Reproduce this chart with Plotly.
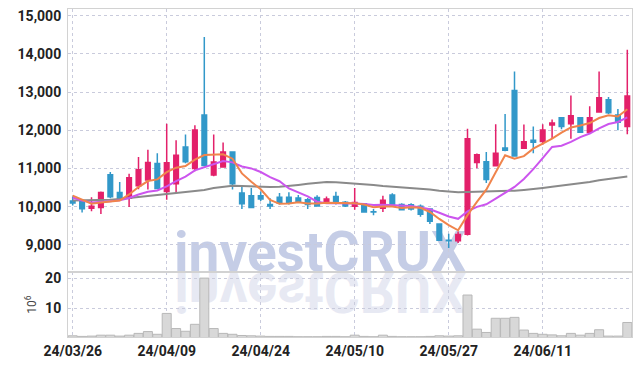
import plotly.graph_objects as go

dates = ["24/03/26", "24/03/27", "24/03/28", "24/03/29", "24/04/01", "24/04/02", "24/04/03", "24/04/04",
         "24/04/05", "24/04/08", "24/04/09", "24/04/11", "24/04/12", "24/04/15", "24/04/16", "24/04/17",
         "24/04/18", "24/04/19", "24/04/22", "24/04/23", "24/04/24", "24/04/25", "24/04/26", "24/04/29",
         "24/04/30", "24/05/02", "24/05/03", "24/05/07", "24/05/08", "24/05/09", "24/05/10", "24/05/13",
         "24/05/14", "24/05/16", "24/05/17", "24/05/20", "24/05/21", "24/05/22", "24/05/23", "24/05/24",
         "24/05/27", "24/05/28", "24/05/29", "24/05/30", "24/05/31", "24/06/03", "24/06/04", "24/06/05",
         "24/06/07", "24/06/10", "24/06/11", "24/06/12", "24/06/13", "24/06/14", "24/06/17", "24/06/18",
         "24/06/19", "24/06/20", "24/06/21", "24/06/24"]

open_ = [10150, 10150, 9960, 9980, 10840, 10370, 10220, 10550, 10700, 11130,
         10400, 10600, 11560, 11000, 12400, 10830, 11040, 11430, 10360, 10290,
         10290, 10060, 10250, 10250, 10230, 10180, 10240, 10100, 10270, 10120,
         10010, 10080, 9870, 9960, 10310, 10060, 10050, 10010, 9940, 9550,
         9120, 9110, 9280, 11160, 11180, 11070, 11540, 13040, 11530, 11740,
         11710, 12140, 12330, 12170, 12330, 11950, 12480, 12800, 12400, 12100]

high = [10270, 10200, 10250, 10400, 10910, 10650, 10860, 11300, 11490, 11400,
        12170, 11740, 11890, 12130, 14440, 11890, 11680, 11440, 10550, 10490,
        10400, 10220, 10360, 10380, 10310, 10230, 10300, 10270, 10390, 10150,
        10490, 10100, 9940, 10290, 10350, 10090, 10090, 10060, 9960, 9570,
        9290, 9350, 12040, 11390, 11430, 12160, 12430, 13540, 12150, 12100,
        12160, 12280, 12340, 12910, 12340, 12630, 13540, 12870, 12560, 14110]

low = [10030, 9850, 9880, 9810, 10220, 10180, 9990, 10460, 10450, 10460,
       10180, 10360, 11140, 10930, 11050, 10800, 11030, 10450, 9940, 9970,
       10150, 9940, 10060, 10060, 10100, 9940, 10010, 10070, 10060, 9990,
       9920, 9840, 9780, 9860, 10010, 9900, 9900, 9740, 9550, 9100,
       8920, 9050, 9250, 11010, 10620, 11050, 11450, 11310, 11510, 11400,
       11620, 11800, 12030, 11780, 11940, 11930, 12480, 12430, 12000, 11900]

close = [10100, 9950, 10010, 10370, 10260, 10210, 10760, 10970, 11160, 10480,
         11150, 11350, 11180, 12010, 11080, 11170, 11430, 10600, 10080, 9980,
         10200, 10020, 10100, 10120, 10130, 10060, 10020, 10200, 10090, 10020,
         10110, 9860, 9860, 10170, 10030, 9920, 9940, 9800, 9620, 9120,
         9110, 9270, 11780, 11360, 10710, 11400, 11480, 11330, 11700, 11690,
         12010, 12190, 12100, 12380, 11950, 12330, 12850, 12460, 12210, 12900]

volume = [0.9, 0.7, 0.8, 1.1, 1.1, 0.8, 1.1, 1.7, 2.3, 1.4,
          8.3, 3.3, 2.4, 4.7, 20.0, 3.3, 1.7, 1.4, 1.0, 0.9,
          0.8, 0.7, 0.7, 0.7, 0.6, 0.6, 0.6, 0.7, 0.7, 0.6,
          1.1, 0.7, 0.6, 1.1, 0.7, 0.6, 0.6, 0.6, 0.7, 0.9,
          0.8, 0.9, 14.4, 3.1, 2.0, 6.7, 6.7, 7.0, 2.8, 1.7,
          1.4, 1.2, 0.9, 1.7, 1.1, 1.7, 2.9, 0.8, 0.8, 5.3]

ma_short = [10290, 10180, 10080, 10110, 10138, 10160, 10322, 10514, 10672, 10716,
            10904, 11022, 11064, 11234, 11354, 11358, 11374, 11258, 10872, 10652,
            10458, 10176, 10076, 10084, 10114, 10086, 10086, 10106, 10100, 10078,
            10088, 10056, 9988, 10004, 10006, 9968, 9984, 9972, 9862, 9680,
            9518, 9384, 9780, 10128, 10446, 10904, 11346, 11256, 11324, 11520,
            11642, 11784, 11938, 12074, 12126, 12190, 12322, 12394, 12360, 12550]

ma_mid = [10240, 10160, 10110, 10120, 10140, 10170, 10230, 10320, 10390, 10427,
          10532, 10672, 10789, 10953, 11035, 11131, 11198, 11161, 11053, 11003,
          10908, 10775, 10667, 10478, 10383, 10272, 10131, 10091, 10092, 10096,
          10087, 10071, 10047, 10052, 10042, 10028, 10020, 9980, 9933, 9843,
          9743, 9684, 9876, 9995, 10063, 10211, 10365, 10518, 10726, 10983,
          11273, 11565, 11597, 11699, 11823, 11916, 12053, 12166, 12217, 12338]

ma_long = [10165, 10168, 10170, 10175, 10185, 10205, 10230, 10255, 10280, 10310,
           10340, 10365, 10390, 10410, 10440, 10490, 10520, 10550, 10545, 10530,
           10520, 10515, 10520, 10540, 10570, 10600, 10625, 10645, 10640, 10625,
           10610, 10590, 10570, 10545, 10525, 10505, 10490, 10480, 10450, 10420,
           10395, 10380, 10385, 10390, 10395, 10400, 10405, 10420, 10440, 10460,
           10490, 10520, 10550, 10580, 10620, 10650, 10690, 10720, 10750, 10790]

price_ticks = [9000, 10000, 11000, 12000, 13000, 14000, 15000]
vol_ticks = [10, 20]
date_ticks = dates[::10]

RED = "#e3206a"
BLUE = "#3298c9"
GRID = "#c9cbdc"
AXLINE = "#d2d2d2"
TXT = "#222222"
TICKFONT = dict(family="Roboto, sans-serif", size=14, color=TXT, weight="bold")

fig = go.Figure()

fig.add_trace(go.Bar(
    x=dates, y=volume, xaxis="x", yaxis="y",
    marker=dict(color="#d8d8d8", line=dict(color="#b8b8b8", width=1)),
    hoverinfo="skip"))

fig.add_trace(go.Candlestick(
    x=dates, open=open_, high=high, low=low, close=close,
    xaxis="x2", yaxis="y2",
    increasing=dict(line=dict(color=RED, width=1.5), fillcolor=RED),
    decreasing=dict(line=dict(color=BLUE, width=1.5), fillcolor=BLUE)))

fig.add_trace(go.Scatter(x=dates, y=ma_long, xaxis="x2", yaxis="y2", mode="lines",
                         line=dict(color="#8a8a8a", width=2), hoverinfo="skip"))
fig.add_trace(go.Scatter(x=dates, y=ma_mid, xaxis="x2", yaxis="y2", mode="lines",
                         line=dict(color="#cc55ee", width=2), hoverinfo="skip"))
fig.add_trace(go.Scatter(x=dates, y=ma_short, xaxis="x2", yaxis="y2", mode="lines",
                         line=dict(color="#f0844c", width=2), hoverinfo="skip"))

split = 0.198
xcommon = dict(type="category", range=[-0.5, len(dates) - 0.5],
               tickvals=date_ticks, showgrid=True, gridcolor=GRID, griddash="dot",
               gridwidth=1, showline=True, linecolor=AXLINE, linewidth=1, mirror=True,
               zeroline=False, fixedrange=True, automargin=False)

fig.update_layout(
    width=642, height=366,
    margin=dict(l=68, r=10, t=9, b=29),
    paper_bgcolor="white", plot_bgcolor="white",
    showlegend=False,
    bargap=0.04,
    xaxis=dict(**xcommon, anchor="y", domain=[0, 1], tickfont=TICKFONT,
               ticks="outside", ticklen=1, tickcolor="rgba(0,0,0,0)"),
    xaxis2=dict(**xcommon, anchor="y2", domain=[0, 1], matches="x",
                showticklabels=False, rangeslider=dict(visible=False)),
    yaxis=dict(domain=[0, split], range=[0.5, 22], tickvals=vol_ticks, automargin=False,
               showgrid=True, gridcolor=GRID, griddash="dot", zeroline=False,
               showline=True, linecolor=AXLINE, mirror=True, tickfont=TICKFONT,
               ticks="outside", ticklen=3, tickcolor="rgba(0,0,0,0)",
               title=dict(text="10<sup>6</sup>", standoff=5,
                          font=dict(family="Roboto, sans-serif", size=12, color="#444"))),
    yaxis2=dict(domain=[split, 1], range=[8290, 15175], tickvals=price_ticks,
                tickformat=",d", showgrid=True, gridcolor=GRID, griddash="dot",
                zeroline=False, showline=True, linecolor=AXLINE, mirror=True,
                tickfont=TICKFONT, ticks="outside", ticklen=3, automargin=False,
                tickcolor="rgba(0,0,0,0)"),
    annotations=[
        dict(text="investCRUX", xref="paper", yref="paper", x=0.447, y=0.259,
             xanchor="center", yanchor="middle", showarrow=False,
             font=dict(family="Roboto, sans-serif", size=55, color="#bcc5e2", weight="bold"),
             opacity=0.85),
        dict(text="investCRUX", xref="paper", yref="paper", x=0.447, y=0.135,
             xanchor="center", yanchor="middle", showarrow=False, textangle=180,
             font=dict(family="Roboto, sans-serif", size=55, color="#dfe2f0", weight="bold"),
             opacity=0.75),
    ],
)

post = """
document.body.style.margin = '0';
var gd = document.getElementById('{plot_id}');
try {
  var t = gd.querySelector('g.annotation[data-index="1"] text.annotation-text');
  if (t) {
    var b = t.getBBox();
    var cx = b.x + b.width / 2;
    t.setAttribute('transform', 'translate(' + (2 * cx) + ',0) scale(-1,1)');
  }
  var below = gd.querySelector('svg.main-svg g.layer-below');
  if (below) {
    var anns = gd.querySelectorAll('g.annotation');
    for (var i = 0; i < anns.length; i++) { below.appendChild(anns[i]); }
  }
} catch (e) {}
"""

fig.write_html("out.html", post_script=post,
               config={"displayModeBar": False, "staticPlot": True})
